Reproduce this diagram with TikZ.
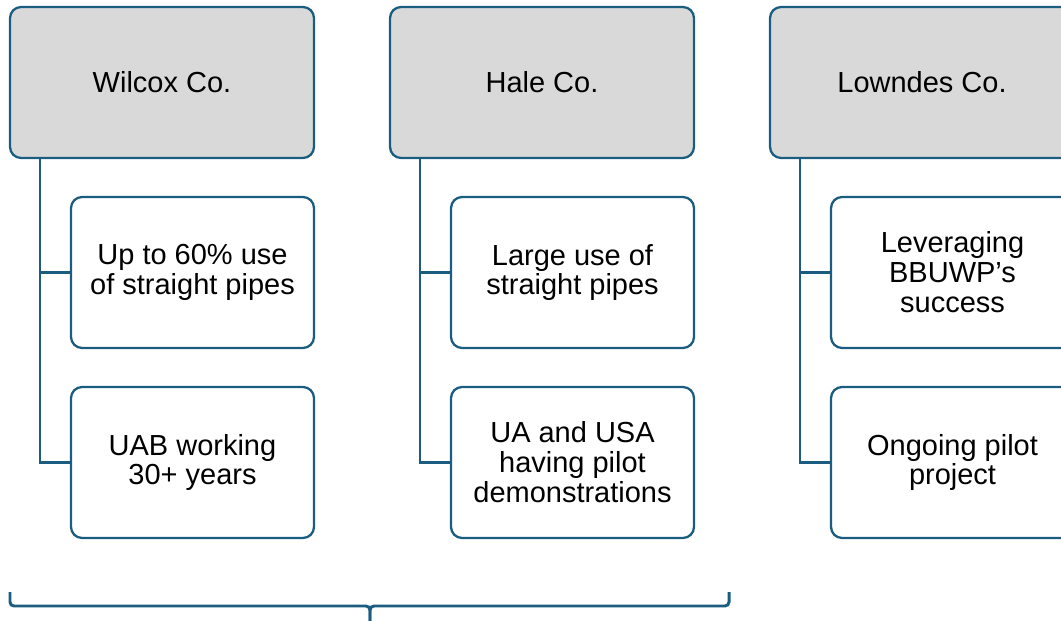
\documentclass[tikz,border=0pt]{standalone}
\usepackage{fontspec}
\setmainfont{Liberation Sans}
\usetikzlibrary{calc}
\definecolor{edgeblue}{RGB}{26,93,128}
\definecolor{headgray}{RGB}{217,217,217}
\tikzset{
	county/.style={draw=edgeblue, fill=headgray, line width=1.3pt, rounded corners=0.22cm,
		minimum width=6.08cm, minimum height=3.02cm, font=\fontsize{16.5}{17}\selectfont},
	fact/.style={draw=edgeblue, fill=white, line width=1.3pt, rounded corners=0.22cm,
		minimum width=4.86cm, minimum height=3.02cm, align=center, font=\fontsize{16.5}{17}\selectfont},
	link/.style={draw=edgeblue, line width=1.3pt},
	bracket/.style={draw=edgeblue, line width=1.7pt, rounded corners=0.08cm}
}
\begin{document}
\begin{tikzpicture}[x=0.02cm, y=-0.02cm]
	\useasboundingbox (0,0) rectangle (1061,621);

	\node[county] (wilcox) at (162,82.5) {Wilcox Co.};
	\node[county] (hale) at (542,82.5) {Hale Co.};
	\node[county] (lowndes) at (922,82.5) {Lowndes Co.};

	\node[fact] (wilcox1) at (192.5,272.5) {Up to 60\% use\\of straight pipes};
	\node[fact] (wilcox2) at (192.5,462.5) {UAB working\\30+ years};
	\node[fact] (hale1) at (572.5,272.5) {Large use of\\straight pipes};
	\node[fact] (hale2) at (572.5,462.5) {UA and USA\\having pilot\\demonstrations};
	\node[fact] (lowndes1) at (952.5,272.5) {Leveraging\\BBUWP’s\\success};
	\node[fact] (lowndes2) at (952.5,462.5) {Ongoing pilot\\project};

	\foreach \c in {wilcox,hale,lowndes} {
		\coordinate (\c trunk) at ($(\c.south west)+(31,0)$);
		\draw[link] (\c trunk) |- (\c 2.west);
		\draw[link] (\c trunk) |- (\c 1.west);
	}

	% brace under the first two counties
	\coordinate (braceL) at (10,592);
	\coordinate (braceR) at (729,592);
	\coordinate (braceM) at (370,606);
	\coordinate (braceTip) at (370,625);
	\draw[bracket] (braceL) |- (braceM) -- (braceTip);
	\draw[bracket] (braceR) |- (braceM) -- (braceTip);
\end{tikzpicture}
\end{document}
